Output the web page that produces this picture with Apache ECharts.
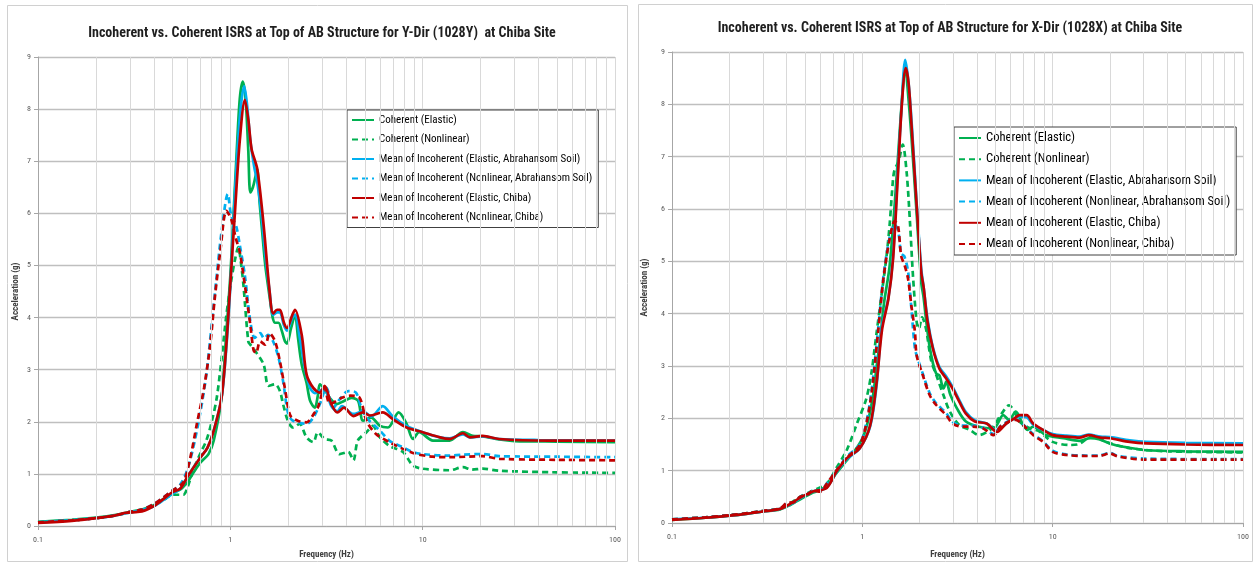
<!DOCTYPE html>
<html>
<head>
<meta charset="utf-8">
<script src="https://cdn.jsdelivr.net/npm/echarts@6/dist/echarts.min.js"></script>
<style>
  html, body { margin: 0; padding: 0; background: #ffffff; }
  #chart { width: 1255px; height: 564px; }
</style>
</head>
<body>
<div id="chart"></div>
<script>
// ---- Series names (shared by both panels) ----
const seriesNames = [
  'Coherent (Elastic)',
  'Coherent (Nonlinear)',
  'Mean of Incoherent (Elastic, Abrahansom Soil)',
  'Mean of Incoherent (Nonlinear, Abrahansom Soil)',
  'Mean of Incoherent (Elastic, Chiba)',
  'Mean of Incoherent (Nonlinear, Chiba)'
];

const titleY = 'Incoherent vs. Coherent ISRS at Top of AB Structure for Y-Dir (1028Y)  at Chiba Site';
const titleX = 'Incoherent vs. Coherent ISRS at Top of AB Structure for X-Dir (1028X) at Chiba Site';

// Minor frequency gridlines (2..9 of each decade)
const minorFreqs = [0.2, 0.3, 0.4, 0.5, 0.6, 0.7, 0.8, 0.9, 2, 3, 4, 5, 6, 7, 8, 9, 20, 30, 40, 50, 60, 70, 80, 90];

// ---- Y-Dir spectra: [frequency (Hz), acceleration (g)] ----
const yCohElastic = [[0.1,0.08],[0.15,0.12],[0.2,0.16],[0.25,0.21],[0.3,0.27],[0.35,0.32],[0.4,0.4],[0.45,0.52],[0.5,0.63],[0.55,0.7],[0.6,0.85],[0.65,1.05],[0.7,1.22],[0.77,1.38],[0.82,1.64],[0.9,2.46],[0.954,3.73],[1.0,4.8],[1.04,6.0],[1.08,7.2],[1.12,8.2],[1.16,8.53],[1.2,8.2],[1.24,7.2],[1.27,6.4],[1.31,6.5],[1.35,6.7],[1.38,6.85],[1.42,6.2],[1.46,5.7],[1.52,5.0],[1.6,4.4],[1.66,4.0],[1.71,3.9],[1.78,3.9],[1.85,3.75],[1.92,3.55],[1.97,3.5],[2.07,3.8],[2.17,4.05],[2.25,3.6],[2.35,3.1],[2.49,2.75],[2.6,2.4],[2.75,2.27],[2.85,2.5],[2.92,2.72],[3.09,2.62],[3.3,2.45],[3.58,2.34],[3.9,2.4],[4.27,2.46],[4.62,2.4],[4.9,2.02],[5.4,2.08],[6.0,1.92],[6.6,1.89],[7.5,2.18],[8.25,1.96],[8.9,1.67],[9.6,1.8],[11.3,1.64],[13.8,1.64],[16.2,1.8],[18.2,1.73],[20.5,1.72],[25,1.66],[30,1.63],[50,1.62],[100,1.61]];
const yCohNonlinear = [[0.1,0.07],[0.15,0.11],[0.2,0.15],[0.25,0.2],[0.3,0.26],[0.35,0.31],[0.4,0.4],[0.45,0.5],[0.5,0.6],[0.53,0.6],[0.57,0.6],[0.6,0.75],[0.64,1.07],[0.7,1.4],[0.75,1.64],[0.8,2.0],[0.85,2.46],[0.9,3.2],[0.954,4.05],[1.01,4.7],[1.06,5.13],[1.1,5.35],[1.14,5.0],[1.17,4.62],[1.24,3.54],[1.27,3.48],[1.37,3.32],[1.49,3.1],[1.58,2.69],[1.71,2.72],[1.81,2.59],[1.88,2.34],[2.0,2.0],[2.12,1.89],[2.29,1.96],[2.49,1.7],[2.7,1.61],[2.85,1.8],[3.09,1.67],[3.35,1.64],[3.7,1.38],[4.1,1.42],[4.36,1.26],[4.6,1.64],[5.1,1.8],[5.5,1.92],[6.0,1.7],[6.7,1.54],[7.9,1.42],[8.9,1.16],[10,1.1],[13.8,1.07],[16.2,1.13],[18,1.08],[20.5,1.1],[25,1.06],[50,1.03],[100,1.02]];
const yIncElasticAbr = [[0.1,0.07],[0.15,0.11],[0.2,0.15],[0.25,0.2],[0.3,0.26],[0.35,0.31],[0.4,0.38],[0.45,0.5],[0.5,0.62],[0.55,0.72],[0.6,0.95],[0.65,1.15],[0.7,1.32],[0.76,1.5],[0.82,1.83],[0.9,2.46],[0.95,3.35],[1.0,4.6],[1.04,5.9],[1.08,7.0],[1.13,8.0],[1.18,8.44],[1.22,8.1],[1.27,7.4],[1.33,6.9],[1.38,6.6],[1.45,6.0],[1.52,5.2],[1.6,4.5],[1.67,4.05],[1.75,4.1],[1.81,4.1],[1.9,3.85],[1.97,3.75],[2.1,4.0],[2.17,4.05],[2.3,3.6],[2.45,3.0],[2.6,2.65],[2.75,2.55],[2.92,2.6],[3.09,2.62],[3.35,2.3],[3.6,2.2],[3.8,2.3],[4.36,2.15],[4.9,2.2],[5.4,2.1],[6.2,2.3],[7.0,2.1],[8.25,1.92],[10,1.8],[12.3,1.7],[13.8,1.68],[16.2,1.76],[17.6,1.7],[20.5,1.72],[25,1.67],[40,1.65],[100,1.64]];
const yIncNonlinearAbr = [[0.1,0.07],[0.15,0.11],[0.2,0.15],[0.25,0.2],[0.3,0.27],[0.35,0.32],[0.4,0.42],[0.45,0.55],[0.5,0.68],[0.55,0.8],[0.6,1.1],[0.65,1.6],[0.7,2.2],[0.75,2.9],[0.8,3.86],[0.85,4.81],[0.9,5.64],[0.97,6.37],[1.01,5.96],[1.07,5.77],[1.12,5.39],[1.19,4.81],[1.27,3.93],[1.34,3.61],[1.43,3.7],[1.5,3.6],[1.57,3.67],[1.67,3.54],[1.78,3.23],[1.88,2.78],[2.0,2.15],[2.12,2.02],[2.49,1.96],[2.7,2.08],[2.92,2.34],[3.16,2.65],[3.43,2.27],[3.7,2.43],[4.1,2.59],[4.5,2.56],[4.8,2.27],[5.1,2.08],[6.0,1.83],[6.7,1.64],[7.9,1.51],[8.9,1.42],[10,1.38],[13.8,1.35],[16.2,1.37],[20.5,1.38],[25,1.34],[50,1.33],[100,1.32]];
const yIncElasticChiba = [[0.1,0.06],[0.15,0.1],[0.2,0.15],[0.25,0.2],[0.28,0.25],[0.3,0.26],[0.33,0.27],[0.36,0.3],[0.4,0.38],[0.45,0.52],[0.5,0.65],[0.55,0.72],[0.6,0.95],[0.7,1.32],[0.76,1.5],[0.82,1.83],[0.9,2.46],[0.95,3.4],[0.99,4.4],[1.06,6.1],[1.12,7.4],[1.19,8.18],[1.24,7.8],[1.29,7.23],[1.38,6.85],[1.49,5.77],[1.6,4.5],[1.67,4.08],[1.75,4.15],[1.81,4.15],[1.9,3.9],[1.97,3.8],[2.1,4.05],[2.17,4.15],[2.35,3.67],[2.49,2.91],[2.7,2.65],[2.92,2.56],[3.09,2.69],[3.35,2.34],[3.6,2.18],[3.9,2.27],[4.36,2.11],[4.9,2.18],[5.3,2.12],[6.2,2.18],[7.0,2.05],[8.25,1.89],[10,1.8],[12.3,1.7],[13.8,1.67],[16.2,1.78],[17.6,1.7],[20.5,1.73],[25,1.67],[45,1.64],[100,1.64]];
const yIncNonlinearChiba = [[0.1,0.07],[0.15,0.11],[0.2,0.15],[0.25,0.2],[0.3,0.27],[0.35,0.32],[0.4,0.42],[0.45,0.55],[0.5,0.68],[0.57,0.84],[0.62,1.32],[0.67,1.96],[0.73,2.65],[0.786,3.48],[0.83,4.37],[0.886,5.26],[0.954,6.05],[1.01,5.89],[1.07,5.51],[1.12,5.26],[1.19,4.62],[1.27,3.86],[1.32,3.38],[1.36,3.32],[1.43,3.54],[1.52,3.48],[1.6,3.7],[1.71,3.54],[1.81,3.16],[1.92,2.65],[2.05,2.12],[2.24,2.02],[2.49,1.99],[2.75,2.18],[2.85,2.27],[3.09,2.65],[3.3,2.34],[3.8,2.46],[4.2,2.5],[4.7,2.46],[5.1,2.02],[5.7,1.77],[6.7,1.61],[7.9,1.48],[9.3,1.38],[11.3,1.33],[13.8,1.32],[20.5,1.34],[25,1.29],[50,1.27],[100,1.26]];

// ---- X-Dir spectra: [frequency (Hz), acceleration (g)] ----
const xCohElastic = [[0.1,0.06],[0.15,0.1],[0.2,0.14],[0.25,0.18],[0.3,0.22],[0.37,0.26],[0.42,0.35],[0.47,0.45],[0.55,0.58],[0.65,0.7],[0.73,0.95],[0.83,1.2],[0.92,1.4],[1.01,1.65],[1.08,2.0],[1.14,2.45],[1.19,3.0],[1.24,3.5],[1.3,4.2],[1.39,4.9],[1.48,6.1],[1.58,7.6],[1.64,8.4],[1.68,8.75],[1.73,8.3],[1.81,7.4],[1.93,5.9],[2.04,4.6],[2.1,4.3],[2.16,3.9],[2.25,3.4],[2.35,3.05],[2.45,2.85],[2.54,2.82],[2.67,2.57],[2.76,2.7],[2.9,2.45],[3.14,2.19],[3.5,1.94],[4.1,1.84],[4.9,1.81],[5.5,2.06],[5.9,1.97],[6.4,2.13],[7.0,1.87],[7.4,1.78],[7.9,1.84],[9.2,1.68],[11.4,1.62],[13.8,1.57],[15.8,1.62],[17.5,1.6],[20.8,1.5],[25,1.44],[31,1.39],[50,1.37],[100,1.36]];
const xCohNonlinear = [[0.1,0.07],[0.15,0.11],[0.2,0.15],[0.25,0.19],[0.3,0.23],[0.37,0.28],[0.42,0.38],[0.47,0.5],[0.55,0.62],[0.65,0.75],[0.73,1.05],[0.83,1.4],[0.93,1.87],[1.05,2.38],[1.12,2.9],[1.16,3.33],[1.19,3.65],[1.24,4.15],[1.34,5.1],[1.39,5.68],[1.45,6.57],[1.48,6.76],[1.55,6.9],[1.63,7.23],[1.71,6.69],[1.78,5.74],[1.85,4.66],[1.93,3.84],[1.98,3.71],[2.06,3.93],[2.16,3.71],[2.3,3.1],[2.45,2.82],[2.67,2.44],[2.88,2.13],[3.23,1.87],[3.66,1.78],[4.1,1.68],[4.7,1.78],[5.0,1.9],[5.4,2.09],[5.9,2.25],[6.3,2.13],[6.7,1.94],[7.6,1.81],[8.5,1.75],[10,1.55],[12.3,1.49],[13.8,1.51],[16.3,1.67],[19,1.55],[25.4,1.43],[40,1.37],[100,1.35]];
const xIncElasticAbr = [[0.1,0.07],[0.15,0.1],[0.2,0.14],[0.25,0.18],[0.3,0.22],[0.37,0.27],[0.42,0.36],[0.47,0.47],[0.55,0.6],[0.65,0.68],[0.73,0.97],[0.83,1.22],[0.97,1.43],[1.1,1.85],[1.19,2.65],[1.26,3.7],[1.37,4.3],[1.45,5.1],[1.54,6.8],[1.61,8.0],[1.68,8.85],[1.75,8.4],[1.82,7.6],[1.93,6.1],[2.04,4.85],[2.1,4.5],[2.2,3.9],[2.35,3.35],[2.54,2.98],[2.76,2.8],[2.98,2.6],[3.23,2.35],[3.5,2.12],[3.9,1.96],[4.5,1.9],[5.1,1.76],[5.7,1.9],[6.3,2.0],[6.7,2.03],[7.3,2.02],[7.9,1.88],[8.9,1.78],[10,1.7],[11.8,1.67],[13.8,1.65],[15.5,1.69],[17.8,1.65],[20,1.64],[25.4,1.58],[31,1.55],[50,1.53],[100,1.52]];
const xIncNonlinearAbr = [[0.1,0.07],[0.15,0.11],[0.2,0.15],[0.25,0.19],[0.3,0.23],[0.37,0.28],[0.4,0.37],[0.44,0.4],[0.47,0.5],[0.52,0.56],[0.55,0.62],[0.6,0.62],[0.65,0.75],[0.73,1.0],[0.83,1.27],[0.97,1.5],[1.05,1.92],[1.12,2.55],[1.21,3.7],[1.29,4.7],[1.39,5.45],[1.48,5.7],[1.54,5.6],[1.6,5.15],[1.66,5.1],[1.74,4.8],[1.81,4.1],[1.89,3.33],[1.95,3.15],[2.08,2.85],[2.26,2.48],[2.45,2.28],[2.76,2.1],[2.98,1.93],[3.37,1.86],[3.8,1.86],[4.3,1.82],[4.9,1.7],[5.3,1.85],[5.9,1.95],[6.4,1.98],[7.0,1.88],[7.9,1.7],[8.9,1.56],[10,1.38],[11.8,1.31],[15,1.29],[17.5,1.29],[20,1.34],[22,1.28],[31,1.23],[100,1.22]];
const xIncElasticChiba = [[0.1,0.06],[0.15,0.1],[0.2,0.14],[0.25,0.18],[0.3,0.22],[0.37,0.27],[0.42,0.37],[0.47,0.48],[0.55,0.6],[0.65,0.67],[0.73,0.98],[0.83,1.24],[0.97,1.43],[1.1,1.87],[1.19,2.7],[1.27,3.7],[1.37,4.28],[1.45,5.04],[1.54,6.69],[1.61,7.96],[1.69,8.69],[1.75,8.4],[1.81,7.64],[1.93,6.06],[2.04,4.79],[2.1,4.5],[2.2,3.85],[2.35,3.33],[2.54,2.95],[2.76,2.76],[2.98,2.57],[3.23,2.32],[3.5,2.09],[3.9,1.94],[4.5,1.9],[5.1,1.74],[5.7,1.9],[6.3,2.0],[6.7,2.06],[7.3,2.06],[7.9,1.9],[8.9,1.78],[10,1.68],[11.8,1.65],[13.8,1.63],[15.5,1.68],[17.8,1.63],[20,1.62],[25.4,1.55],[31,1.52],[50,1.5],[100,1.49]];
const xIncNonlinearChiba = [[0.1,0.07],[0.15,0.11],[0.2,0.15],[0.25,0.19],[0.3,0.23],[0.37,0.28],[0.4,0.38],[0.44,0.4],[0.47,0.5],[0.52,0.55],[0.55,0.62],[0.6,0.6],[0.65,0.75],[0.73,1.0],[0.83,1.25],[0.97,1.49],[1.05,1.9],[1.12,2.5],[1.21,3.65],[1.29,4.66],[1.39,5.42],[1.48,5.77],[1.54,5.68],[1.6,5.1],[1.67,4.92],[1.74,4.66],[1.81,4.15],[1.89,3.65],[1.93,3.2],[2.08,2.82],[2.26,2.44],[2.45,2.25],[2.76,2.06],[2.98,1.9],[3.37,1.84],[3.8,1.84],[4.3,1.81],[4.9,1.68],[5.3,1.84],[5.9,1.94],[6.4,1.97],[7.0,1.87],[7.9,1.68],[8.9,1.55],[10,1.36],[11.8,1.3],[15,1.28],[17.5,1.28],[20,1.33],[22,1.27],[31,1.21],[100,1.21]];

// ---- Styling ----
const FONT = "'Roboto Condensed', 'Liberation Sans', sans-serif";
const GREEN = '#00B050', BLUE = '#00B0F0', RED = '#C00000';
const DASH = [6, 4];

const panels = [
  { grid: { left: 38, top: 57, width: 577, height: 472 }, nameGapX: 24, nameGapY: 18,
    data: [yCohElastic, yCohNonlinear, yIncElasticAbr, yIncNonlinearAbr, yIncElasticChiba, yIncNonlinearChiba],
    legend: { left: 347, top: 110, fontSize: 11, lineHeight: 14, itemGap: 5.5, itemHeight: 14 },
    title: { text: titleY, x: 322, y: 33 } },
  { grid: { left: 672, top: 52, width: 571, height: 473 }, nameGapX: 27, nameGapY: 23,
    data: [xCohElastic, xCohNonlinear, xIncElasticAbr, xIncNonlinearAbr, xIncElasticChiba, xIncNonlinearChiba],
    legend: { left: 954, top: 127, fontSize: 12.6, lineHeight: 16, itemGap: 5.2, itemHeight: 16 },
    title: { text: titleX, x: 950, y: 28 } }
];
const colors = [GREEN, GREEN, BLUE, BLUE, RED, RED];
const dashed = [false, true, false, true, false, true];

const option = {
  animation: false,
  backgroundColor: '#ffffff',
  grid: panels.map(p => p.grid),
  xAxis: panels.map((p, i) => ({
    type: 'log', logBase: 10, min: 0.1, max: 100, gridIndex: i,
    name: 'Frequency (Hz)', nameLocation: 'middle', nameGap: p.nameGapX,
    nameTextStyle: { fontFamily: FONT, fontWeight: 'bold', fontSize: 9, color: '#404040' },
    axisLine: { show: true, onZero: false, lineStyle: { color: '#A6A6A6', width: 1 } },
    axisTick: { show: true, length: 4, lineStyle: { color: '#A6A6A6' } },
    axisLabel: { fontFamily: FONT, fontSize: 8, color: '#595959', margin: 10 },
    splitLine: { show: true, lineStyle: { color: '#D9D9D9', width: 1 } },
    minorTick: { show: false }, minorSplitLine: { show: false }
  })),
  yAxis: panels.map((p, i) => ({
    type: 'value', min: 0, max: 9, interval: 1, gridIndex: i,
    name: 'Acceleration (g)', nameLocation: 'middle', nameGap: p.nameGapY,
    nameTextStyle: { fontFamily: FONT, fontWeight: 'bold', fontSize: 9, color: '#404040' },
    axisLine: { show: true, lineStyle: { color: '#A6A6A6', width: 1 } },
    axisTick: { show: true, length: 4, lineStyle: { color: '#A6A6A6' } },
    axisLabel: { fontFamily: FONT, fontSize: 8, color: '#595959', margin: 7 },
    splitLine: { show: true, lineStyle: { color: '#BFBFBF', width: 1.3 } }
  })),
  legend: panels.map(p => ({
    left: p.legend.left, top: p.legend.top, orient: 'vertical',
    data: seriesNames, selectedMode: false,
    backgroundColor: '#ffffff', borderColor: '#404040', borderWidth: 1,
    padding: [3, 6, 3, 4], itemWidth: 22, itemHeight: p.legend.itemHeight, itemGap: p.legend.itemGap,
    itemStyle: { opacity: 0 },
    textStyle: { fontFamily: FONT, fontSize: p.legend.fontSize, lineHeight: p.legend.lineHeight, color: '#000000' }
  })),
  graphic: [
    { type: 'rect', shape: { x: 7.5, y: 5.5, width: 620, height: 556 }, style: { fill: 'none', stroke: '#D0D0D0', lineWidth: 1 }, silent: true, z: -10 },
    { type: 'rect', shape: { x: 638.5, y: 4.5, width: 614, height: 557 }, style: { fill: 'none', stroke: '#D0D0D0', lineWidth: 1 }, silent: true, z: -10 }
  ].concat(panels.map(p => ({
    type: 'text', x: p.title.x, y: p.title.y, silent: true,
    style: { text: p.title.text, font: "bold 14px 'Roboto Condensed', sans-serif", fill: '#1F1F1F', textAlign: 'center', textVerticalAlign: 'middle' }
  }))),
  series: []
};

panels.forEach((p, i) => {
  // minor frequency gridlines
  option.series.push({
    type: 'line', xAxisIndex: i, yAxisIndex: i, data: [], silent: true, z: 1,
    markLine: {
      silent: true, symbol: ['none', 'none'], label: { show: false },
      lineStyle: { color: '#D9D9D9', width: 1, type: 'solid' },
      emphasis: { disabled: true },
      data: minorFreqs.map(f => ({ xAxis: f }))
    }
  });
  p.data.forEach((d, k) => {
    option.series.push({
      name: seriesNames[k], type: 'line', xAxisIndex: i, yAxisIndex: i,
      data: d, symbol: 'none', smooth: 0.3, silent: true, z: 3,
      lineStyle: { color: colors[k], width: 2.7, type: dashed[k] ? DASH : 'solid' },
      itemStyle: { color: colors[k] }
    });
  });
});

const chart = echarts.init(document.getElementById('chart'), null, { renderer: 'canvas' });
chart.setOption(option);
</script>
</body>
</html>
